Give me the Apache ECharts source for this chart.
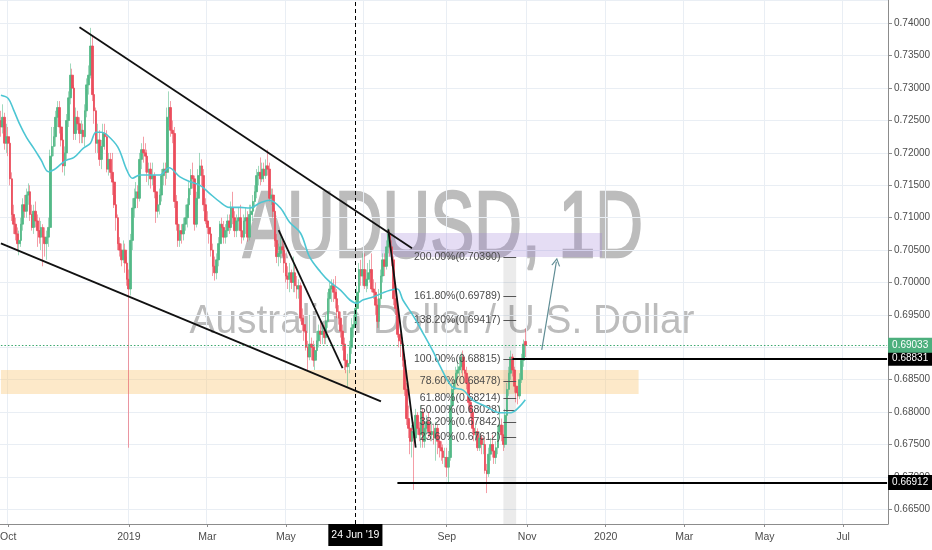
<!DOCTYPE html>
<html><head><meta charset="utf-8">
<script src="https://cdn.jsdelivr.net/npm/echarts@6.0.0/dist/echarts.min.js"></script>
<style>html,body{margin:0;padding:0;background:#fff}#c{width:932px;height:550px}</style>
</head><body><div id="c"></div>
<script>
// ---- daily candles, values in 1/10000 USD, each row [open, close, low, high] ----
const sep2018 = [[7250,7240,7225,7265],[7240,7255,7230,7275],[7255,7215,7205,7262],[7215,7225,7200,7245]];
const oct2018 = [[7225,7215,7195,7240],[7215,7160,7150,7225],[7160,7105,7095,7170],[7105,7090,7075,7120],[7090,7075,7065,7100],
 [7075,7060,7048,7085],[7060,7065,7042,7080],[7065,7090,7055,7100],[7090,7120,7080,7130],[7120,7110,7100,7135],
 [7110,7135,7100,7145],[7135,7140,7120,7153],[7140,7105,7095,7150],[7105,7085,7080,7120],[7085,7110,7075,7120],
 [7110,7095,7085,7125],[7095,7080,7055,7105],[7080,7070,7060,7100],[7070,7085,7050,7095],[7085,7070,7025,7090],
 [7070,7060,7040,7085],[7060,7070,7035,7080],[7070,7085,7055,7100]];
const nov2018 = [[7085,7195,7080,7205],[7195,7210,7175,7240],[7210,7225,7195,7240],[7225,7255,7210,7265],[7255,7270,7240,7280],
 [7270,7240,7230,7280],[7240,7220,7210,7250],[7220,7180,7170,7230],[7180,7200,7165,7210],[7200,7250,7190,7260],
 [7250,7285,7240,7295],[7285,7320,7275,7338],[7320,7300,7290,7330],[7300,7230,7220,7305],[7230,7255,7220,7270],
 [7255,7245,7235,7265],[7245,7230,7215,7255],[7230,7235,7215,7250],[7235,7225,7215,7245],[7225,7265,7210,7275],
 [7265,7305,7255,7315],[7305,7320,7290,7335]];
const dec2018 = [[7320,7365,7315,7393],[7365,7290,7280,7380],[7290,7265,7245,7300],[7265,7215,7200,7270],[7215,7220,7200,7245],
 [7220,7190,7180,7235],[7190,7210,7175,7220],[7210,7230,7200,7245],[7230,7225,7205,7245],[7225,7175,7170,7235],
 [7175,7190,7165,7200],[7190,7170,7160,7200],[7170,7155,7135,7200],[7155,7120,7115,7160],[7120,7100,7080,7135],
 [7100,7060,7050,7105],[7060,7050,7040,7070],[7050,7035,7025,7060],[7035,7050,7030,7065],[7050,7030,7015,7060],
 [7030,7005,6995,7040]];
const jan2019 = [[7005,6990,6745,7020],[6990,7065,6980,7075],[7065,7115,7050,7130],[7115,7130,7100,7145],
 [7130,7140,7115,7155],[7140,7130,7115,7150],[7130,7190,7125,7200],[7190,7205,7175,7215],[7205,7200,7185,7225],
 [7200,7195,7170,7215],[7195,7170,7155,7205],[7170,7175,7150,7185],[7175,7160,7145,7185],[7160,7165,7150,7185],
 [7165,7140,7130,7170],[7140,7110,7092,7150],[7110,7120,7100,7135],[7120,7135,7105,7145],[7135,7165,7125,7175],
 [7165,7175,7150,7185],[7175,7170,7150,7185],[7170,7255,7160,7270],[7255,7270,7240,7295]];
const feb2019 = [[7270,7235,7225,7280],[7235,7230,7215,7250],[7230,7125,7115,7240],[7125,7090,7080,7135],[7090,7065,7055,7100],
 [7065,7080,7055,7090],[7080,7075,7060,7090],[7075,7090,7065,7100],[7090,7100,7080,7120],[7100,7120,7085,7130],
 [7120,7145,7110,7155],[7145,7165,7135,7175],[7165,7160,7145,7185],[7160,7090,7080,7165],[7090,7130,7085,7140],
 [7130,7165,7120,7175],[7165,7180,7150,7200],[7180,7165,7150,7190],[7165,7120,7110,7175],[7120,7095,7090,7130]];
const mar2019 = [[7095,7085,7075,7110],[7085,7075,7060,7095],[7075,7050,7040,7085],[7050,7025,7010,7060],[7025,7015,7003,7040],
 [7015,7035,7005,7045],[7035,7060,7025,7070],[7060,7090,7050,7095],[7090,7085,7070,7100],[7085,7070,7060,7095],
 [7070,7080,7060,7090],[7080,7095,7070,7105],[7095,7085,7075,7105],[7085,7115,7080,7125],[7115,7100,7090,7140],
 [7100,7080,7070,7110],[7080,7095,7070,7105],[7095,7100,7080,7115],[7100,7080,7070,7120],[7080,7070,7060,7095],
 [7070,7095,7065,7105]];
const apr2019 = [[7095,7100,7075,7115],[7100,7070,7063,7110],[7070,7105,7065,7120],[7105,7110,7095,7120],[7110,7125,7095,7135],
 [7125,7140,7115,7150],[7140,7165,7130,7175],[7165,7170,7150,7180],[7170,7160,7150,7193],[7160,7175,7155,7185],
 [7175,7165,7155,7185],[7165,7180,7160,7190],[7180,7175,7165,7205],[7175,7130,7125,7185],[7130,7135,7120,7145],
 [7135,7110,7100,7145],[7110,7065,7055,7115],[7065,7040,7030,7075],[7040,7045,7025,7060],[7045,7055,7030,7070],
 [7055,7050,7040,7065],[7050,7030,7015,7060]];
const may2019 = [[7030,7010,7000,7045],[7010,7005,6990,7025],[7005,7015,6985,7030],[7015,7000,6990,7020],[7000,7015,6985,7040],
 [7015,6995,6985,7025],[6995,6990,6975,7010],[6990,6995,6975,7005],[6995,6945,6940,7000],[6945,6935,6925,6960],
 [6935,6925,6910,6950],[6925,6900,6895,6935],[6900,6885,6865,6910],[6885,6905,6880,6950],[6905,6900,6880,6915],
 [6900,6880,6870,6910],[6880,6895,6865,6905],[6895,6910,6885,6925],[6910,6925,6900,6935],[6925,6920,6905,6940],
 [6920,6925,6905,6935],[6925,6915,6905,6935],[6915,6940,6905,6950]];
const jun2019 = [[6940,6975,6930,6985],[6975,6990,6955,7000],[6990,6995,6970,7005],[6995,6985,6970,7005],[6985,6975,6960,7010],
 [6975,6955,6945,6990],[6955,6945,6935,6965],[6945,6925,6915,6955],[6925,6905,6895,6935],[6905,6880,6865,6915],
 [6880,6870,6860,6895],[6870,6875,6839,6890],[6875,6900,6860,6910],[6900,6930,6890,6945],[6930,6935,6915,6950],
 [6935,6960,6930,6975],[6960,6985,6950,6995],[6985,7020,6975,7030],[7020,7010,6995,7035],[7010,7020,6995,7045]];
const jul2019 = [[7020,6995,6990,7045],[6995,7005,6985,7020],[7005,7015,6990,7030],[7015,7020,7000,7035],[7020,6990,6985,7045],
 [6990,6985,6975,7005],[6985,6965,6950,7000],[6965,6940,6930,6975],[6940,6975,6930,6990],[6975,7010,6965,7020],
 [7010,7035,7000,7045],[7035,7025,7010,7045],[7025,7055,7020,7065],[7055,7075,7045,7084],[7075,7055,7040,7080],
 [7055,7035,7025,7065],[7035,6975,6965,7040],[6975,6960,6950,6990],[6960,6920,6915,6975],[6920,6910,6900,6935],
 [6910,6905,6885,6925],[6905,6880,6870,6915],[6880,6835,6825,6890]];
const aug2019 = [[6835,6790,6780,6845],[6790,6775,6760,6810],[6775,6755,6735,6785],[6755,6770,6730,6780],[6770,6760,6680,6785],
 [6760,6795,6750,6805],[6795,6775,6765,6800],[6775,6765,6755,6785],[6765,6800,6745,6810],[6800,6755,6745,6805],
 [6755,6775,6745,6785],[6775,6785,6765,6795],[6785,6770,6760,6800],[6770,6765,6755,6785],[6765,6770,6755,6785],
 [6770,6760,6750,6780],[6760,6775,6725,6785],[6775,6755,6735,6780],[6755,6745,6730,6765],[6745,6740,6725,6755],
 [6740,6730,6720,6750],[6730,6730,6715,6745]];
const sep2019 = [[6730,6715,6700,6745],[6715,6730,6692,6740],[6730,6810,6725,6820],[6810,6835,6800,6845],[6835,6845,6820,6855],
 [6845,6860,6835,6870],[6860,6865,6850,6880],[6865,6870,6855,6885],[6870,6885,6860,6892],[6885,6865,6855,6895],
 [6865,6860,6845,6875],[6860,6845,6835,6870],[6845,6815,6805,6855],[6815,6800,6790,6825],[6800,6775,6765,6810],
 [6775,6765,6755,6785],[6765,6770,6755,6780],[6770,6745,6740,6775],[6745,6760,6740,6770],[6760,6750,6735,6765],
 [6750,6750,6735,6760]];
const oct2019 = [[6750,6710,6705,6760],[6710,6705,6675,6720],[6705,6735,6700,6745],[6735,6750,6725,6760],[6750,6740,6730,6765],
 [6740,6730,6720,6750],[6730,6745,6720,6755],[6745,6770,6735,6780],[6770,6780,6765,6810],[6780,6765,6755,6790],
 [6765,6750,6740,6780],[6750,6795,6745,6805],[6795,6835,6785,6845],[6835,6860,6825,6870],[6860,6885,6850,6895],
 [6885,6865,6855,6890],[6865,6840,6830,6870],[6840,6830,6815,6850],[6830,6825,6812,6840],[6825,6850,6820,6860],
 [6850,6880,6845,6890],[6880,6905,6870,6912],[6909,6903.3,6885,6929]];

// moving average: [bar index, value in 1/10000]
const maPoints = [[0,7289],[4,7284],[7,7266],[10,7246],[14,7224],[18,7207],[22,7189],[26,7171],[29,7174],[33,7183],[36,7189],
 [40,7193],[45,7207],[49,7215],[52,7232],[55,7232],[58,7228],[64,7209],[69,7173],[72,7161],[76,7166],[82,7166],[87,7166],
 [92,7177],[98,7163],[104,7155],[109,7150],[114,7138],[120,7124],[125,7116],[131,7116],[136,7115],[142,7123],[147,7127],
 [153,7115],[158,7093],[164,7076],[169,7039],[175,7016],[180,7001],[186,6988],[191,6973],[195,6968],[198,6973],[204,6978],
 [209,6984],[213,6988],[217,6990],[220,6973],[226,6947],[231,6922],[237,6891],[240,6873],[247,6839],[253,6834],[258,6819],
 [266,6808],[273,6799],[279,6799],[283,6806],[287,6819]];

// drawn trend lines: [[bar, value], [bar, value]] in 1/10000
const trendLines = [[[43,7394],[225,7053]], [[0,7060.3],[208,6816.5]], [[152,7081],[187,6868]], [[212,7082],[227,6745]]];
const arrowLine = [[296,6896],[304,7032]];

const lastPrice = 0.69033;
const resistance = {from: 280, value: 0.68831};
const support = {from: 217, value: 0.66912};

const fibFrom = 275, fibTo = 282;
const fibValues = [0.70390, 0.69789, 0.69417, 0.68815, 0.68478, 0.68214, 0.68028, 0.67842, 0.67612];
const fibLabels = ['200.00%(0.70390)','161.80%(0.69789)','138.20%(0.69417)','100.00%(0.68815)','78.60%(0.68478)',
 '61.80%(0.68214)','50.00%(0.68028)','38.20%(0.67842)','23.60%(0.67612)'];

// zones: [fromBar, toBar, low, high]  (bar -2 = runs off the left edge)
const supplyZone = [208, 329, 0.70394, 0.70764];
const demandZone = [-2, 349, 0.6828, 0.6865];
const highlightBand = [275, 282, 0.7039];

const yMin = 0.66273, yMax = 0.74360;
const firstDay = [2018, 8, 25], slotCount = 486;
const tickLabels = [['2018-10-01','Oct'],['2019-01-01','2019'],['2019-03-01','Mar'],['2019-05-01','May'],['2019-09-02','Sep'],
 ['2019-11-01','Nov'],['2020-01-01','2020'],['2020-03-02','Mar'],['2020-05-01','May'],['2020-07-01','Jul']];
const gridOnlyDates = ['2019-07-01'];
const crosshairDate = '2019-06-24', crosshairText = "24 Jun '19";
const wmTitle = 'AUDUSD, 1D', wmSub = 'Australian Dollar / U.S. Dollar';

// ---- build ----
const dates = [];
{ const d = new Date(Date.UTC(firstDay[0], firstDay[1], firstDay[2]));
  while (dates.length < slotCount) { const w = d.getUTCDay(); if (w !== 0 && w !== 6) dates.push(d.toISOString().slice(0,10)); d.setUTCDate(d.getUTCDate()+1); } }
const P = v => v / 10000;
const candles = [].concat(sep2018, oct2018, nov2018, dec2018, jan2019, feb2019, mar2019, apr2019, may2019, jun2019, jul2019, aug2019, sep2019, oct2019)
  .map(r => r.map(P));
const bodies = candles.map(([o,c]) => [o, c, Math.min(o,c), Math.max(o,c)]);
const lastIdx = slotCount - 1;

const FONT = '"Liberation Sans", Arial, sans-serif';
const FS = 10.5, FSY = 10;
const labelMap = new Map(tickLabels);
labelMap.set(crosshairDate, crosshairText);
const gridSet = new Set(tickLabels.map(t => t[0]).concat(gridOnlyDates));

function fitScale(text, font, target) {
  const ctx = document.createElement('canvas').getContext('2d'); ctx.font = font;
  return target / ctx.measureText(text).width;
}
const bigFont = '95px "Liberation Sans", Arial, sans-serif';
const smallFont = '40px "Liberation Sans", Arial, sans-serif';
const wmColor = '#bcbcbc';

const chart = echarts.init(document.getElementById('c'));
const priceLabel = (bg) => ({show:true, position:'end', distance:1, formatter:'{b}', color:'#fff', backgroundColor:bg,
  padding:[3,4,2,4], fontSize:FSY, fontFamily:FONT});

const series = [
  { type:'line', data:[], z:1, silent:true,
    markArea:{ silent:true, data:[
      [{coord:[demandZone[0], demandZone[3]], itemStyle:{color:'rgba(250,200,120,0.4)'}}, {coord:[demandZone[1], demandZone[2]]}],
      [{coord:[supplyZone[0], supplyZone[3]], itemStyle:{color:'rgba(150,120,210,0.25)'}}, {coord:[supplyZone[1], supplyZone[2]]}],
      [{coord:[highlightBand[0], highlightBand[2]], itemStyle:{color:'rgba(0,0,0,0.08)'}}, {coord:[highlightBand[1], yMin]}]
    ]}},
  { type:'candlestick', data:candles, z:3, barWidth:1, silent:true,
    itemStyle:{color:'rgba(83,185,135,0.55)', color0:'rgba(235,77,92,0.55)', borderColor:'rgba(83,185,135,0.55)', borderColor0:'rgba(235,77,92,0.55)', borderWidth:1}},
  { type:'candlestick', data:bodies, z:4, barWidth:2.2, silent:true,
    itemStyle:{color:'#53b987', color0:'#eb4d5c', borderColor:'#53b987', borderColor0:'#eb4d5c', borderWidth:0.8}},
  { type:'line', data:maPoints.map(([i,v]) => [i, P(v)]), z:5, smooth:0.35, symbol:'none', silent:true,
    lineStyle:{color:'#4dc6d3', width:1.6}},
];
trendLines.forEach(seg => series.push({ type:'line', data:seg.map(([i,v]) => [i, P(v)]), z:6, symbol:'none', silent:true,
  lineStyle:{color:'#111', width:1.8}}));
series.push({ type:'line', data:[], z:7, silent:true,
  markLine:{ silent:true, symbol:['none','none'], animation:false,
    label:{show:true, position:'start', distance:3, formatter:'{b}', color:'#4a4a4a', fontSize:FS, fontFamily:FONT},
    lineStyle:{color:'#555', width:1, type:'solid'},
    data: fibValues.map((v,k) => [{name:fibLabels[k], coord:[fibFrom, v]}, {coord:[fibTo, v]}]).concat([
      [{name:resistance.value.toFixed(5), coord:[resistance.from, resistance.value], lineStyle:{color:'#000', width:2}, label:priceLabel('#000')},
       {coord:[lastIdx, resistance.value]}],
      [{name:support.value.toFixed(5), coord:[support.from, support.value], lineStyle:{color:'#000', width:2}, label:priceLabel('#000')},
       {coord:[lastIdx, support.value]}],
      [{name:lastPrice.toFixed(5), coord:[0, lastPrice], lineStyle:{color:'#3aa76d', width:1, type:[1.5,2]}, label:priceLabel('#4caf7d')},
       {coord:[lastIdx, lastPrice]}],
      [{name:'', coord:[crosshairDate, yMin], lineStyle:{color:'#000', width:1, type:[4,3]}, label:{show:false}},
       {coord:[crosshairDate, yMax]}]
    ])
  }});
series.push({ type:'line', data:[], z:7, silent:true,
  markLine:{ silent:true, symbol:['none','path://M0,10 L5,0 L10,10 L8.6,10 L5,2.8 L1.4,10 Z'], symbolSize:[9,8],
    label:{show:false}, lineStyle:{color:'#5f8c94', width:1.2, type:'solid'},
    data:[[{coord:[arrowLine[0][0], P(arrowLine[0][1])]}, {coord:[arrowLine[1][0], P(arrowLine[1][1])]}]] }});

chart.setOption({
  animation:false,
  backgroundColor:'#fff',
  grid:{left:0, right:44, top:0, bottom:26, containLabel:false, outerBoundsMode:'none'},
  graphic:[
    {type:'text', x:443, y:231, scaleX:fitScale(wmTitle, bigFont, 400), z:0, silent:true,
     style:{text:wmTitle, font:bigFont, fill:wmColor, stroke:wmColor, lineWidth:2.5, align:'center', verticalAlign:'middle', textAlign:'center', textVerticalAlign:'middle'}},
    {type:'text', x:442, y:322, scaleX:fitScale(wmSub, smallFont, 505), z:0, silent:true,
     style:{text:wmSub, font:smallFont, fill:wmColor, align:'center', verticalAlign:'middle', textAlign:'center', textVerticalAlign:'middle'}}
  ],
  xAxis:{ type:'category', data:dates, boundaryGap:true,
    axisLine:{lineStyle:{color:'#8c8c8c'}},
    axisTick:{show:true, alignWithLabel:true, length:3, interval:(i,v) => labelMap.has(v) && v !== crosshairDate, lineStyle:{color:'#8c8c8c'}},
    axisLabel:{ interval:(i,v) => labelMap.has(v), margin:0,
      formatter: v => v === crosshairDate ? '{h|' + crosshairText + '}' : '{n|' + labelMap.get(v) + '}',
      rich:{ n:{padding:[8,0,0,0], color:'#4d4d4d', fontSize:FS, fontFamily:FONT},
             h:{padding:[6,3,5,3], backgroundColor:'#000', color:'#fff', fontSize:FS, fontFamily:FONT}}},
    splitLine:{show:true, interval:(i,v) => gridSet.has(v), lineStyle:{color:'#e9eef4'}}
  },
  yAxis:{ type:'value', position:'right', min:yMin, max:yMax, splitNumber:16, scale:true,
    axisLine:{show:true, lineStyle:{color:'#8c8c8c'}},
    axisTick:{show:true, length:4, lineStyle:{color:'#8c8c8c'}},
    axisLabel:{margin:6, color:'#4d4d4d', fontSize:FSY, fontFamily:FONT, formatter:v => v.toFixed(5), showMinLabel:false, showMaxLabel:false},
    splitLine:{lineStyle:{color:'#e9eef4'}}
  },
  series
});
</script></body></html>
